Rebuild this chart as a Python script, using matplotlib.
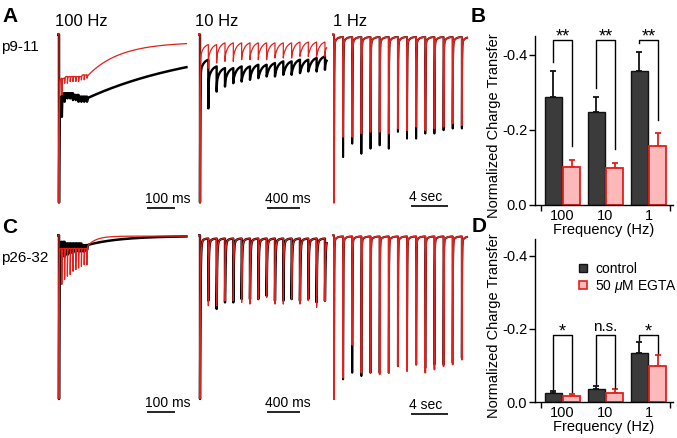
import numpy as np
import matplotlib
matplotlib.use('Agg')
import matplotlib.pyplot as plt
from matplotlib.lines import Line2D

plt.rcParams['font.family'] = ['Liberation Sans', 'DejaVu Sans']
plt.rcParams['axes.unicode_minus'] = False
plt.rcParams['mathtext.fontset'] = 'custom'
plt.rcParams['mathtext.it'] = 'Liberation Sans:italic'
plt.rcParams['mathtext.rm'] = 'Liberation Sans'

# ------------------------------------------------------------------ data
FREQ_TITLES = ['100 Hz', '10 Hz', '1 Hz']
AGE_LABELS = ['p9-11', 'p26-32']
FREQ_TICKS = ['100', '10', '1']
INTERVALS_MS = [10, 100, 1000]
TRACE_END_MS = [455, 1520, 14570]
SCALE_MS = [100, 400, 4000]
SCALE_LABELS = ['100 ms', '400 ms', '4 sec']

# Traces: peak of each response and level just before the next pulse,
# normalized to the first response (negative = inward current)
A100_CTRL_PEAK = [-1.00, -0.49, -0.40, -0.38, -0.38, -0.39, -0.39, -0.40, -0.40, -0.40, -0.40]
A100_CTRL_PRE = [-0.37, -0.35, -0.35, -0.35, -0.35, -0.36, -0.36, -0.37, -0.37, -0.37]
A100_EGTA_PEAK = [-1.00, -0.36, -0.29, -0.29, -0.28, -0.28, -0.28, -0.28, -0.27, -0.27, -0.26]
A100_EGTA_PRE = [-0.26, -0.26, -0.25, -0.25, -0.25, -0.25, -0.25, -0.25, -0.24, -0.24]

A10_CTRL_PEAK = [-1.00, -0.44, -0.34, -0.31, -0.29, -0.28, -0.27, -0.26, -0.25, -0.25,
                 -0.24, -0.24, -0.23, -0.22, -0.22, -0.21]
A10_CTRL_PRE = [-0.15, -0.19, -0.20, -0.20, -0.19, -0.19, -0.18, -0.18, -0.17, -0.16,
                -0.16, -0.15, -0.15, -0.14, -0.13]
A10_EGTA_PEAK = [-1.00, -0.20, -0.17, -0.16, -0.16, -0.15, -0.15, -0.15, -0.15, -0.14,
                 -0.14, -0.14, -0.13, -0.13, -0.13, -0.13]
A10_EGTA_PRE = [-0.06, -0.06, -0.05, -0.05, -0.05, -0.05, -0.05, -0.05, -0.05, -0.05,
                -0.05, -0.045, -0.045, -0.045, -0.045]

A1_CTRL_PEAK = [-1.00, -0.73, -0.65, -0.71, -0.68, -0.66, -0.68, -0.58, -0.62, -0.62,
                -0.59, -0.59, -0.57, -0.56, -0.56]
A1_EGTA_PEAK = [-1.00, -0.61, -0.61, -0.59, -0.58, -0.58, -0.59, -0.56, -0.57, -0.55,
                -0.57, -0.56, -0.55, -0.53, -0.54]
A1_PRE = [-0.015] * 14

C100_CTRL_PEAK = [-1.00, -0.14, -0.13, -0.12, -0.11, -0.11, -0.10, -0.10, -0.10, -0.10, -0.09]
C100_CTRL_PRE = [-0.04, -0.04, -0.05, -0.05, -0.05, -0.05, -0.05, -0.05, -0.06, -0.06]
C100_EGTA_PEAK = [-1.00, -0.30, -0.27, -0.25, -0.24, -0.22, -0.21, -0.20, -0.19, -0.18, -0.18]
C100_EGTA_PRE = [-0.08, -0.08, -0.08, -0.08, -0.08, -0.08, -0.08, -0.08, -0.08, -0.08]

C10_CTRL_PEAK = [-1.00, -0.40, -0.45, -0.41, -0.41, -0.39, -0.39, -0.39, -0.37, -0.40,
                 -0.40, -0.39, -0.40, -0.39, -0.41, -0.40]
C10_EGTA_PEAK = [-1.00, -0.43, -0.43, -0.40, -0.40, -0.41, -0.42, -0.39, -0.38, -0.42,
                 -0.42, -0.39, -0.42, -0.40, -0.44, -0.40]
C10_PRE = [-0.02] * 15

C1_CTRL_PEAK = [-1.00, -0.88, -0.84, -0.86, -0.84, -0.84, -0.84, -0.80, -0.79, -0.79,
                -0.81, -0.79, -0.79, -0.78, -0.75]
C1_EGTA_PEAK = [-1.00, -0.87, -0.67, -0.84, -0.84, -0.85, -0.84, -0.80, -0.83, -0.79,
                -0.84, -0.82, -0.80, -0.79, -0.76]
C1_PRE = [-0.007] * 14

# Bar charts: normalized charge transfer (mean, SEM)
B_CTRL = [-0.289, -0.247, -0.356]
B_CTRL_SEM = [0.069, 0.040, 0.053]
B_EGTA = [-0.102, -0.098, -0.156]
B_EGTA_SEM = [0.018, 0.015, 0.035]
B_SIG = ['**', '**', '**']

D_CTRL = [-0.025, -0.036, -0.135]
D_CTRL_SEM = [0.007, 0.009, 0.029]
D_EGTA = [-0.017, -0.026, -0.100]
D_EGTA_SEM = [0.006, 0.009, 0.029]
D_SIG = ['*', 'n.s.', '*']

LEGEND_LABELS = ['control', r'50 $\mu$M EGTA']

# ------------------------------------------------------------------ styles
RED = '#e3201b'
PINK = '#fbb9b9'
DARK = '#3b3b3b'

W, H = 677, 438
fig = plt.figure(figsize=(W / 100, H / 100), dpi=100)


def add_ax(x0, y0, x1, y1):
    return fig.add_axes([x0 / W, 1 - y1 / H, (x1 - x0) / W, (y1 - y0) / H])


def trace_axes(x_origin, ppx, xlim, y_base, ppy, ylim):
    ax = add_ax(x_origin + xlim[0] * ppx, y_base - ylim[1] * ppy,
                x_origin + xlim[1] * ppx, y_base - ylim[0] * ppy)
    ax.set_xlim(xlim)
    ax.set_ylim(ylim)
    ax.axis('off')
    return ax


def g(s, tau, T):
    return (np.exp(-s / tau) - np.exp(-T / tau)) / (1 - np.exp(-T / tau))


def synth(interval, peaks, pre, t_end, tau_f, hook=0.0, tau_s=None,
          tail_final=None, tail_tau=None, tail_post=None, lead=None):
    if lead is None:
        lead = interval * 0.3
    ts = [np.array([-lead, 0.0])]
    vs = [np.array([0.0, 0.0])]
    n = len(peaks)
    for i in range(n):
        t0 = i * interval
        if i < n - 1:
            T = interval
            target = pre[i]
            s = np.linspace(0, T, 300)
            if tau_s is not None:
                hl = target + hook
                v = target + (hl - target) * g(s, tau_s, T) + (peaks[i] - hl) * g(s, tau_f, T)
            else:
                v = target + (peaks[i] - target) * g(s, tau_f, T)
        else:
            T = t_end - t0
            s = np.linspace(0, T, 400)
            fin = tail_final if tail_final is not None else (pre[-1] if len(pre) else 0.0)
            if tail_post is not None:
                v = fin + (tail_post - fin) * np.exp(-s / tail_tau) + \
                    (peaks[i] - tail_post) * np.exp(-s / tau_f)
            else:
                tt = tail_tau if tail_tau is not None else tau_f
                v = fin + (peaks[i] - fin) * np.exp(-s / tt)
        ts.append(t0 + s)
        vs.append(v)
    return np.concatenate(ts), np.concatenate(vs)


# geometry of trace panels (pixels)
COL_X0 = [59, 200, 334]
COL_PPX = [0.28, 0.0833, 0.00913]
COL_XLIM = [(-6, 465), (-20, 1560), (-200, 14800)]
ROW_BASE = [34.5, 235.3]
ROW_PPY = [168, 163.7]
ROW_YLIM = [(-1.12, 0.05), (-1.15, 0.05)]
BAR_START_PX = [147, 267, 411]
BAR_Y_PX = [[208, 208, 206], [412, 412.3, 414]]

traces = {
    (0, 0): [synth(10, A100_CTRL_PEAK, A100_CTRL_PRE, 455, 1.2, tail_final=-0.05,
                   tail_tau=430, tail_post=-0.38),
             synth(10, A100_EGTA_PEAK, A100_EGTA_PRE, 455, 1.2, tail_final=-0.045,
                   tail_tau=115, tail_post=-0.25)],
    (0, 1): [synth(100, A10_CTRL_PEAK, A10_CTRL_PRE, 1520, 3, hook=-0.08, tau_s=40,
                   tail_final=-0.12, tail_tau=40, tail_post=-0.18),
             synth(100, A10_EGTA_PEAK, A10_EGTA_PRE, 1520, 3, hook=-0.08, tau_s=40,
                   tail_final=-0.045, tail_tau=40, tail_post=-0.10)],
    (0, 2): [synth(1000, A1_CTRL_PEAK, A1_PRE, 14570, 25, hook=-0.04, tau_s=250,
                   tail_final=-0.015, tail_tau=250, tail_post=-0.055),
             synth(1000, A1_EGTA_PEAK, A1_PRE, 14570, 25, hook=-0.04, tau_s=250,
                   tail_final=-0.015, tail_tau=250, tail_post=-0.055)],
    (1, 0): [synth(10, C100_CTRL_PEAK, C100_CTRL_PRE, 455, 1.0, tail_final=-0.004,
                   tail_tau=120, tail_post=-0.06),
             synth(10, C100_EGTA_PEAK, C100_EGTA_PRE, 455, 0.8, tail_final=-0.005,
                   tail_tau=30, tail_post=-0.07)],
    (1, 1): [synth(100, C10_CTRL_PEAK, C10_PRE, 1520, 6, hook=-0.03, tau_s=30,
                   tail_final=-0.02, tail_tau=30, tail_post=-0.05),
             synth(100, C10_EGTA_PEAK, C10_PRE, 1520, 6, hook=-0.03, tau_s=30,
                   tail_final=-0.02, tail_tau=30, tail_post=-0.05)],
    (1, 2): [synth(1000, C1_CTRL_PEAK, C1_PRE, 14570, 25, hook=-0.03, tau_s=250,
                   tail_final=-0.007, tail_tau=250, tail_post=-0.04),
             synth(1000, C1_EGTA_PEAK, C1_PRE, 14570, 25, hook=-0.03, tau_s=250,
                   tail_final=-0.007, tail_tau=250, tail_post=-0.04)],
}
CTRL_LW = {0: 1.8, 1: 1.7, 2: 1.4}
EGTA_LW = {0: 0.9, 1: 0.9, 2: 1.2}

for r in range(2):
    for c in range(3):
        ax = trace_axes(COL_X0[c], COL_PPX[c], COL_XLIM[c], ROW_BASE[r], ROW_PPY[r], ROW_YLIM[r])
        (tc, vc), (te, ve) = traces[(r, c)]
        ax.plot(tc, vc, color='black', lw=CTRL_LW[c], solid_joinstyle='round')
        ax.plot(te, ve, color=RED, lw=EGTA_LW[c], solid_joinstyle='round')
        # scale bar
        t0 = (BAR_START_PX[c] - COL_X0[c]) / COL_PPX[c]
        yb = -(BAR_Y_PX[r][c] - ROW_BASE[r]) / ROW_PPY[r]
        ax.plot([t0, t0 + SCALE_MS[c]], [yb, yb], color='black', lw=1.2,
                solid_capstyle='butt', clip_on=False)
        ax.text(t0 - 2 / COL_PPX[c], yb + 5 / ROW_PPY[r], SCALE_LABELS[c],
                fontsize=10, ha='left', va='baseline')


def ftext(x, y, s, **kw):
    fig.text(x / W, 1 - y / H, s, **kw)


# panel letters and labels
ftext(2, 22, 'A', fontsize=15, fontweight='bold', va='baseline')
ftext(2, 233, 'C', fontsize=15, fontweight='bold', va='baseline')
ftext(471, 22, 'B', fontsize=15, fontweight='bold', va='baseline')
ftext(472, 232, 'D', fontsize=15, fontweight='bold', va='baseline')
for x, s in zip([55, 195, 333], FREQ_TITLES):
    ftext(x, 26, s, fontsize=12, va='baseline')
ftext(1, 47, AGE_LABELS[0], fontsize=11, va='center')
ftext(1, 258, AGE_LABELS[1], fontsize=11, va='center')


def bar_panel(y_top, y_zero, ppv, ctrl, ctrl_sem, egta, egta_sem, sig, gaps,
              br_top, legend=False):
    x_left, x_right, gc, unit = 535, 673, 562.5, 43
    ax = add_ax(x_left, y_top, x_right, y_zero)
    xlim = ((x_left - gc) / unit, (x_right - gc) / unit)
    ymax = (y_zero - y_top) / ppv
    x = np.arange(len(ctrl))
    off, w = 0.21, 0.39
    ax.bar(x - off, ctrl, w, color=DARK, edgecolor='#111111', lw=1.0, zorder=2)
    ax.bar(x + off, egta, w, color=PINK, edgecolor=RED, lw=1.3, zorder=2)
    ax.errorbar(x - off, ctrl, yerr=[ctrl_sem, [0] * len(ctrl)], fmt='none',
                ecolor='#111111', elinewidth=1.3, capsize=2.2, capthick=1.3, zorder=1)
    ax.errorbar(x + off, egta, yerr=[egta_sem, [0] * len(egta)], fmt='none',
                ecolor=RED, elinewidth=1.3, capsize=2.2, capthick=1.3, zorder=1)
    for i in range(len(ctrl)):
        yl = ctrl[i] - ctrl_sem[i] - gaps[0]
        yr = egta[i] - egta_sem[i] - gaps[1]
        xl, xr = i - off, i + off
        ax.plot([xl, xl, xr, xr], [yl, br_top, br_top, yr], color='black', lw=1.0)
        if sig[i] == 'n.s.':
            ax.text(i, br_top - 4 / ppv, sig[i], ha='center', va='baseline', fontsize=11)
        else:
            ax.text(i, br_top + 1 / ppv, sig[i], ha='center', va='baseline', fontsize=13)
    ax.set_xlim(xlim)
    ax.set_ylim(0, -ymax)
    ax.set_yticks([0, -0.2, -0.4])
    ax.set_yticklabels(['0.0', '-0.2', '-0.4'])
    ax.set_xticks(x)
    ax.set_xticklabels(FREQ_TICKS)
    ax.set_xticks([-0.5, 2.5], minor=True)
    ax.tick_params(axis='x', which='major', length=0, pad=3, labelsize=10.5)
    ax.tick_params(axis='x', which='minor', length=4, width=1, direction='out')
    ax.tick_params(axis='y', length=4, width=1, direction='out', pad=1.5, labelsize=10.5)
    for sp in ['top', 'right']:
        ax.spines[sp].set_visible(False)
    for sp in ['left', 'bottom']:
        ax.spines[sp].set_linewidth(1.0)
    ax.set_xlabel('Frequency (Hz)', fontsize=10.5, labelpad=0)
    ax.set_ylabel('Normalized Charge Transfer', fontsize=10.5)
    ax.yaxis.set_label_coords(-0.245, 0.47)
    if legend:
        handles = [Line2D([], [], ls='none', marker='s', ms=5.5, mfc=DARK, mec='#111111', mew=1),
                   Line2D([], [], ls='none', marker='s', ms=5.5, mfc=PINK, mec=RED, mew=1.2)]
        ax.legend(handles, LEGEND_LABELS, loc='upper left', bbox_to_anchor=(0.31, 0.86),
                  frameon=False, fontsize=10, handlelength=0.7, handletextpad=0.55,
                  borderaxespad=0, borderpad=0, labelspacing=0.15)
    return ax


bar_panel(36, 205, 375, B_CTRL, B_CTRL_SEM, B_EGTA, B_EGTA_SEM, B_SIG,
          (0.024, 0.036), -0.44)
bar_panel(238.7, 402.3, 366.7, D_CTRL, D_CTRL_SEM, D_EGTA, D_EGTA_SEM, D_SIG,
          (0.005, 0.005), -0.183, legend=True)

fig.savefig('out.png', dpi=100)
